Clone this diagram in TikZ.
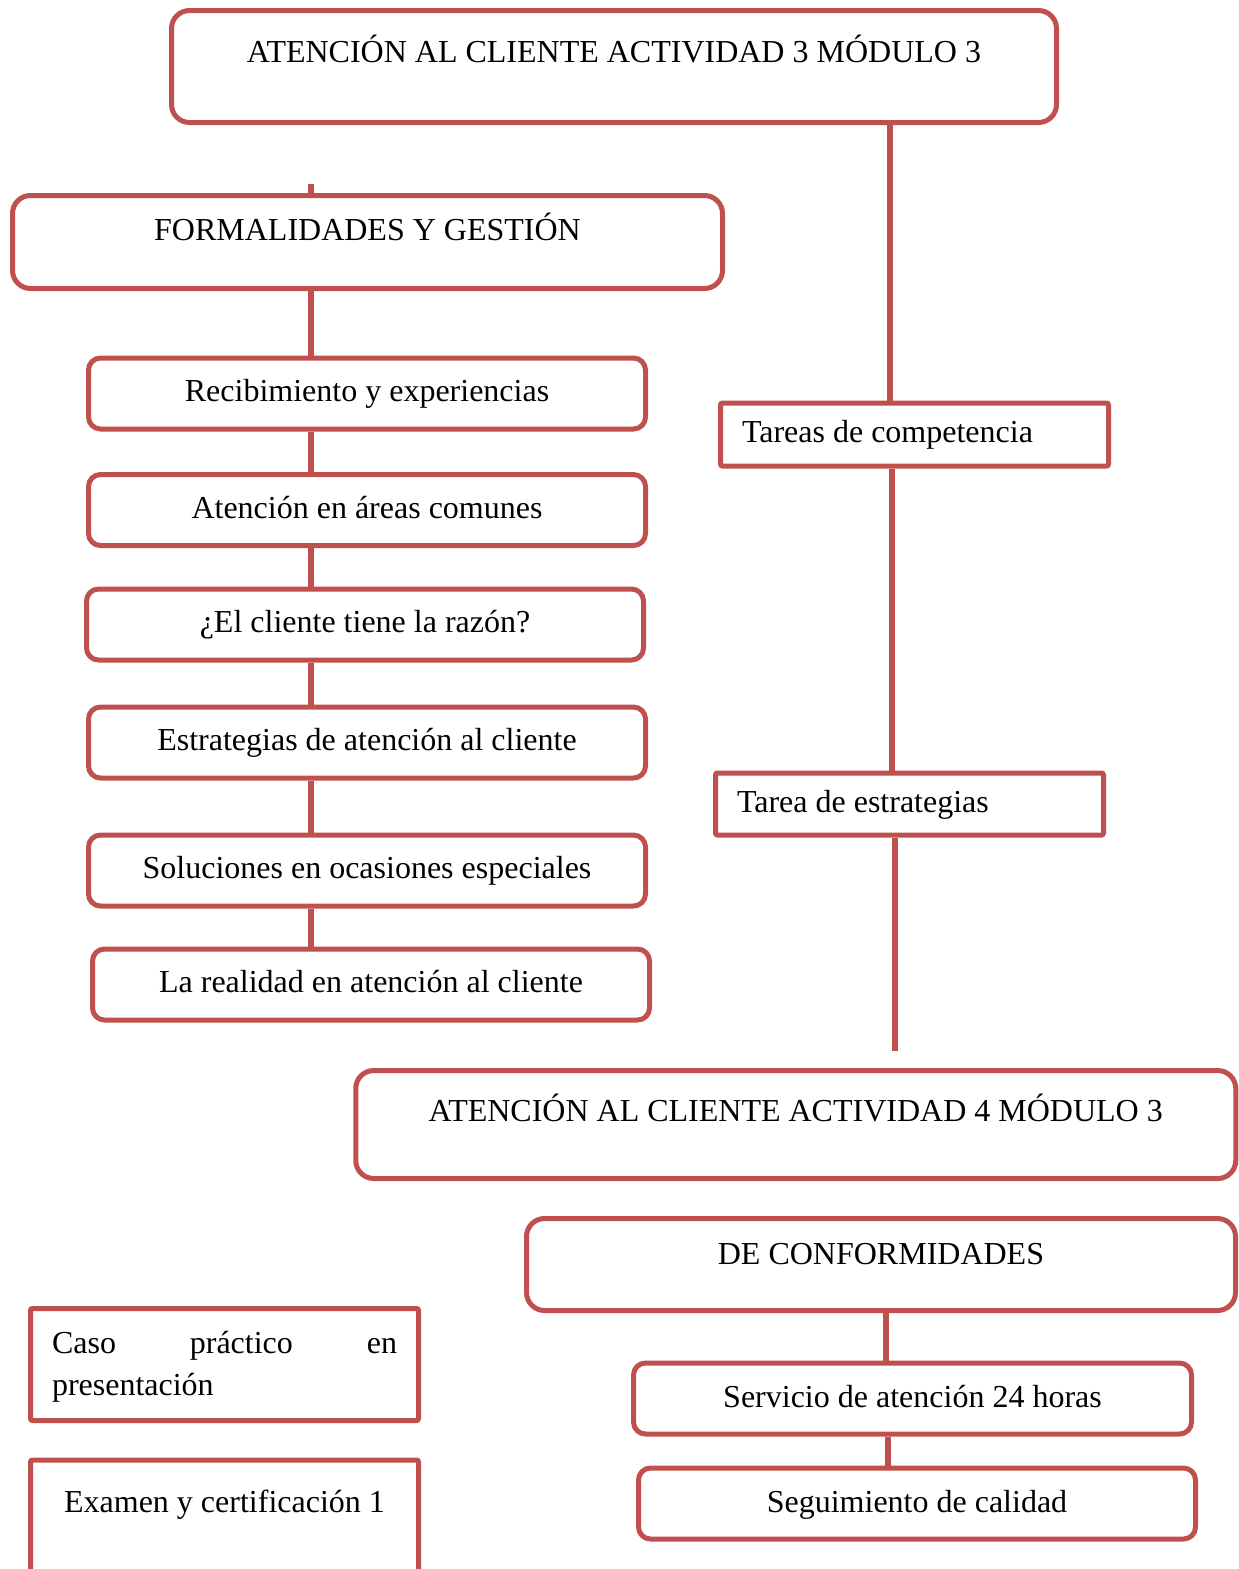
\documentclass[tikz,border=0pt]{standalone}
\usepackage{fontspec}
\setmainfont{Liberation Serif}
\usetikzlibrary{backgrounds}
\definecolor{boxred}{RGB}{192,80,77}
\begin{document}
\begin{tikzpicture}[x=1pt,y=-1pt,
  every node/.style={font=\fontsize{32}{42}\selectfont},
  frame/.style={draw=boxred, line width=5pt, fill=white, inner sep=0pt,
    text height=22pt, text depth=6pt, rounded corners=2pt},
  rframe/.style={frame, rounded corners=12pt, minimum width=557pt, minimum height=71pt},
  bigframe/.style={frame, rounded corners=18pt},
  leftbox/.style={frame, minimum width=388pt, inner xsep=21.5pt},
  link/.style={draw=boxred, line width=6pt}]

\useasboundingbox (0,0) rectangle (1239,1569);
\clip (0,0) rectangle (1239,1569);

% title boxes
\node[bigframe, minimum width=885pt, minimum height=112pt, text depth=31pt]
  (top) at (614,66.5) {ATENCIÓN AL CLIENTE ACTIVIDAD 3 MÓDULO 3};
\node[bigframe, minimum width=710pt, minimum height=93pt, text depth=26pt]
  (form) at (367.5,242) {FORMALIDADES Y GESTIÓN};

% left column
\node[rframe] (r1) at (367,393.5) {Recibimiento y experiencias};
\node[rframe] (r2) at (367,510) {Atención en áreas comunes};
\node[rframe] (r3) at (365,624.5) {¿El cliente tiene la razón?};
\node[rframe] (r4) at (367,742.5) {Estrategias de atención al cliente};
\node[rframe] (r5) at (367,870.5) {Soluciones en ocasiones especiales};
\node[rframe] (r6) at (371,984.5) {La realidad en atención al cliente};

% right column
\node[leftbox, minimum height=63pt] (tc) at (914.5,434.5)
  {\makebox[345pt][l]{Tareas de competencia}};
\node[leftbox, minimum height=62pt] (te) at (909.5,804)
  {\makebox[345pt][l]{Tarea de estrategias}};

% second block
\node[bigframe, minimum width=880pt, minimum height=108pt, text depth=29pt]
  (a4) at (795.75,1124.5) {ATENCIÓN AL CLIENTE ACTIVIDAD 4 MÓDULO 3};
\node[bigframe, minimum width=709pt, minimum height=92pt, text depth=23pt]
  (dc) at (881,1264.5) {DE CONFORMIDADES};
\node[rframe, minimum width=558pt, text depth=5pt] (s24) at (912.5,1398.5)
  {Servicio de atención 24 horas};
\node[rframe, text depth=5pt] (sq) at (917,1503.5) {Seguimiento de calidad};

% bottom-left boxes
\node[frame, minimum width=388pt, minimum height=112pt, inner xsep=21.5pt,
  text width=345pt, align=left, text depth=45pt] (caso) at (224.5,1364.5)
  {\makebox[345pt]{Caso\hfill práctico\hfill en}\\presentación};
\node[frame, minimum width=388pt, minimum height=140pt, text depth=58pt]
  (exam) at (224.5,1530) {Examen y certificación 1};

% vertical guides for the connector columns
\coordinate (lx) at (310.5,0);
\coordinate (ra) at (890,0);
\coordinate (rb) at (892,0);
\coordinate (rc) at (886,0);
\coordinate (rd) at (888,0);
\coordinate (stub) at (311,184);
\coordinate (tail) at (894.5,1051);

% connectors, kept behind the boxes
\begin{scope}[on background layer]
\draw[link] (stub) -- (form.north -| stub);
\foreach \a/\b in {form/r1,r1/r2,r2/r3,r3/r4,r4/r5,r5/r6}
  \draw[link] (\a.south -| lx) -- (\b.north -| lx);
\draw[link] (top.south -| ra) -- (tc.north -| ra);
\draw[link] (tc.south -| rb) -- (te.north -| rb);
\draw[link] (te.south -| tail) -- (tail);
\draw[link] (dc.south -| rc) -- (s24.north -| rc);
\draw[link] (s24.south -| rd) -- (sq.north -| rd);
\end{scope}

\end{tikzpicture}
\end{document}
